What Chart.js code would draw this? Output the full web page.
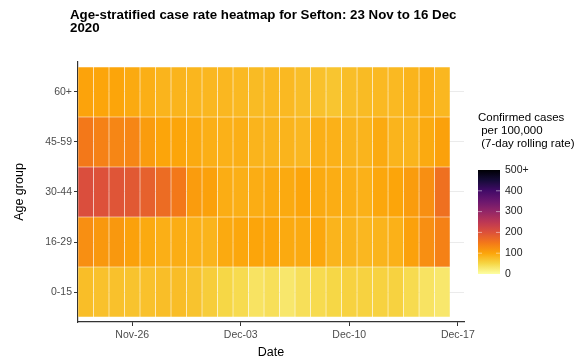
<!DOCTYPE html>
<html>
<head>
<meta charset="utf-8">
<title>Age-stratified case rate heatmap for Sefton</title>
<script src="https://cdn.jsdelivr.net/npm/chart.js@4.4.1/dist/chart.umd.min.js"></script>
<style>
  html, body { margin: 0; padding: 0; background: #fff; }
  #wrap { width: 584px; height: 362px; }
</style>
</head>
<body>
<div id="wrap"><canvas id="heatmap" width="584" height="362"></canvas></div>
<script>
// Chart data (7-day rolling case rate per 100,000)
const days = [
  "2020-11-23", "2020-11-24", "2020-11-25", "2020-11-26", "2020-11-27", "2020-11-28",
  "2020-11-29", "2020-11-30", "2020-12-01", "2020-12-02", "2020-12-03", "2020-12-04",
  "2020-12-05", "2020-12-06", "2020-12-07", "2020-12-08", "2020-12-09", "2020-12-10",
  "2020-12-11", "2020-12-12", "2020-12-13", "2020-12-14", "2020-12-15", "2020-12-16",
];
const ageGroups = ["0-15", "16-29", "30-44", "45-59", "60+"];

const rate0to15 = [75, 72, 72, 70, 72, 75, 76, 70, 60, 50, 45, 35, 40, 30, 40, 45, 50, 55, 55, 55, 55, 45, 35, 30];
const rate16to29 = [125, 115, 115, 105, 95, 90, 92, 88, 85, 95, 98, 100, 100, 95, 95, 98, 85, 85, 82, 85, 88, 105, 125, 140];
const rate30to44 = [205, 200, 195, 190, 180, 165, 150, 110, 105, 92, 90, 92, 95, 95, 100, 95, 92, 90, 88, 98, 100, 110, 125, 160];
const rate45to59 = [150, 140, 135, 135, 110, 100, 100, 95, 90, 88, 90, 85, 85, 85, 82, 90, 88, 85, 85, 95, 85, 85, 95, 105];
const rate60plus = [102, 100, 100, 95, 90, 85, 85, 83, 82, 82, 80, 78, 80, 80, 75, 72, 68, 75, 78, 80, 80, 85, 90, 82];

const tickDates = ["2020-11-26", "2020-12-03", "2020-12-10", "2020-12-17"];
const tickLabels = ["Nov-26", "Dec-03", "Dec-10", "Dec-17"];

const legendTicks = [0, 100, 200, 300, 400, 500];
const legendLabels = ["0", "100", "200", "300", "400", "500+"];
const rateMax = 500;

// inferno palette (low -> high), used reversed
const inferno = ["#000004", "#160B39", "#420A68", "#6A176E", "#932667", "#BC3754",
  "#DD513A", "#F37819", "#FCA50A", "#F6D746", "#FCFFA4"];

const FONT = "'Liberation Sans', Arial, Helvetica, sans-serif";

function hexToRgb(h) {
  return [parseInt(h.slice(1, 3), 16), parseInt(h.slice(3, 5), 16), parseInt(h.slice(5, 7), 16)];
}

// value -> reversed inferno colour
function rateColor(v) {
  let t = 1 - Math.min(Math.max(v, 0), rateMax) / rateMax;
  const pos = t * (inferno.length - 1);
  const i = Math.min(Math.floor(pos), inferno.length - 2);
  const f = pos - i;
  const a = hexToRgb(inferno[i]);
  const b = hexToRgb(inferno[i + 1]);
  const c = a.map((x, k) => Math.round(x + (b[k] - x) * f));
  return `rgb(${c[0]}, ${c[1]}, ${c[2]})`;
}

function dayIndex(dateStr) {
  return Math.round((new Date(dateStr) - new Date(days[0])) / 86400000);
}

const rowValues = [rate0to15, rate16to29, rate30to44, rate45to59, rate60plus];

// one floating-bar dataset per age group row
const datasets = rowValues.map((vals, r) => ({
  label: ageGroups[r],
  data: vals.map((v, i) => ({ x: dayIndex(days[i]), y: [r, r + 1], rate: v })),
  backgroundColor: vals.map((v) => rateColor(v)),
  borderColor: "rgba(255, 255, 255, 0.25)",
  borderWidth: 0.6,
  borderSkipped: false,
  barPercentage: 1,
  categoryPercentage: 1,
  grouped: false,
}));

// title + colourbar legend
const decorations = {
  id: "decorations",
  afterDraw(chart) {
    const ctx = chart.ctx;
    ctx.save();
    ctx.fillStyle = "#000";
    ctx.textAlign = "left";
    ctx.textBaseline = "middle";
    ctx.font = `bold 13.3px ${FONT}`;
    ctx.fillText("Age-stratified case rate heatmap for Sefton: 23 Nov to 16 Dec", 70, 15);
    ctx.fillText("2020", 70, 28);

    // legend title
    ctx.font = `11.5px ${FONT}`;
    ctx.fillText("Confirmed cases", 478, 118);
    ctx.fillText(" per 100,000", 478, 131);
    ctx.fillText(" (7-day rolling rate)", 478, 144);

    // colour bar
    const bx = 478, bw = 22, top = 170, bottom = 274;
    const grad = ctx.createLinearGradient(0, bottom, 0, top);
    for (let k = 0; k <= 50; k++) {
      grad.addColorStop(k / 50, rateColor((k / 50) * rateMax));
    }
    ctx.fillStyle = grad;
    ctx.fillRect(bx, top, bw, bottom - top);

    ctx.strokeStyle = "rgba(255, 255, 255, 0.8)";
    ctx.lineWidth = 0.6;
    ctx.font = `10.5px ${FONT}`;
    ctx.fillStyle = "#222";
    legendTicks.forEach((v, k) => {
      const y = bottom - (v / rateMax) * (bottom - top);
      if (v > 0 && v < rateMax) {
        ctx.beginPath();
        ctx.moveTo(bx, y); ctx.lineTo(bx + 4, y);
        ctx.moveTo(bx + bw - 4, y); ctx.lineTo(bx + bw, y);
        ctx.stroke();
      }
      ctx.fillText(legendLabels[k], bx + bw + 5, y);
    });
    ctx.restore();
  },
};

const ctx = document.getElementById("heatmap").getContext("2d");
const heatChart = new Chart(ctx, {
  type: "bar",
  data: { datasets: datasets },
  options: {
    responsive: false,
    animation: false,
    layout: { padding: { top: 62, right: 120, left: 0, bottom: 0 } },
    plugins: {
      legend: { display: false },
      title: { display: false },
      tooltip: {
        callbacks: {
          title: (items) => days[items[0].dataIndex],
          label: (item) => `${item.dataset.label}: ${item.raw.rate}`,
        },
      },
    },
    scales: {
      x: {
        type: "linear",
        min: -0.5,
        max: 24.4,
        offset: false,
        afterFit: (scale) => { scale.height = 40; },
        afterBuildTicks: (scale) => {
          scale.ticks = tickDates.map((d) => ({ value: dayIndex(d) }));
        },
        ticks: {
          autoSkip: false,
          maxRotation: 0,
          padding: 3,
          color: "#4D4D4D",
          font: { family: FONT, size: 10.5 },
          callback: (value) => tickLabels[tickDates.findIndex((d) => dayIndex(d) === value)],
        },
        grid: { offset: false, color: "rgba(0,0,0,0)", tickColor: "#333", tickLength: 4, tickWidth: 1 },
        border: { display: true, color: "#333", width: 1.2 },
        title: {
          display: true,
          text: "Date",
          color: "#000",
          font: { family: FONT, size: 12.5 },
          padding: { top: 0, bottom: 2 },
        },
      },
      y: {
        type: "linear",
        min: -0.1,
        max: 5.1,
        afterFit: (scale) => { scale.width = 78; },
        afterBuildTicks: (scale) => {
          scale.ticks = ageGroups.map((g, r) => ({ value: r + 0.5 }));
        },
        ticks: {
          autoSkip: false,
          padding: 2,
          color: "#4D4D4D",
          font: { family: FONT, size: 10.5 },
          callback: (value) => ageGroups[Math.round(value - 0.5)],
        },
        grid: { offset: false, color: "#EBEBEB", tickColor: "#333", tickLength: 4, tickWidth: 1 },
        border: { display: true, color: "#333", width: 1.2 },
        title: {
          display: true,
          text: "Age group",
          color: "#000",
          font: { family: FONT, size: 12.5 },
          padding: { top: 12, bottom: 0 },
        },
      },
    },
  },
  plugins: [decorations],
});
</script>
</body>
</html>
